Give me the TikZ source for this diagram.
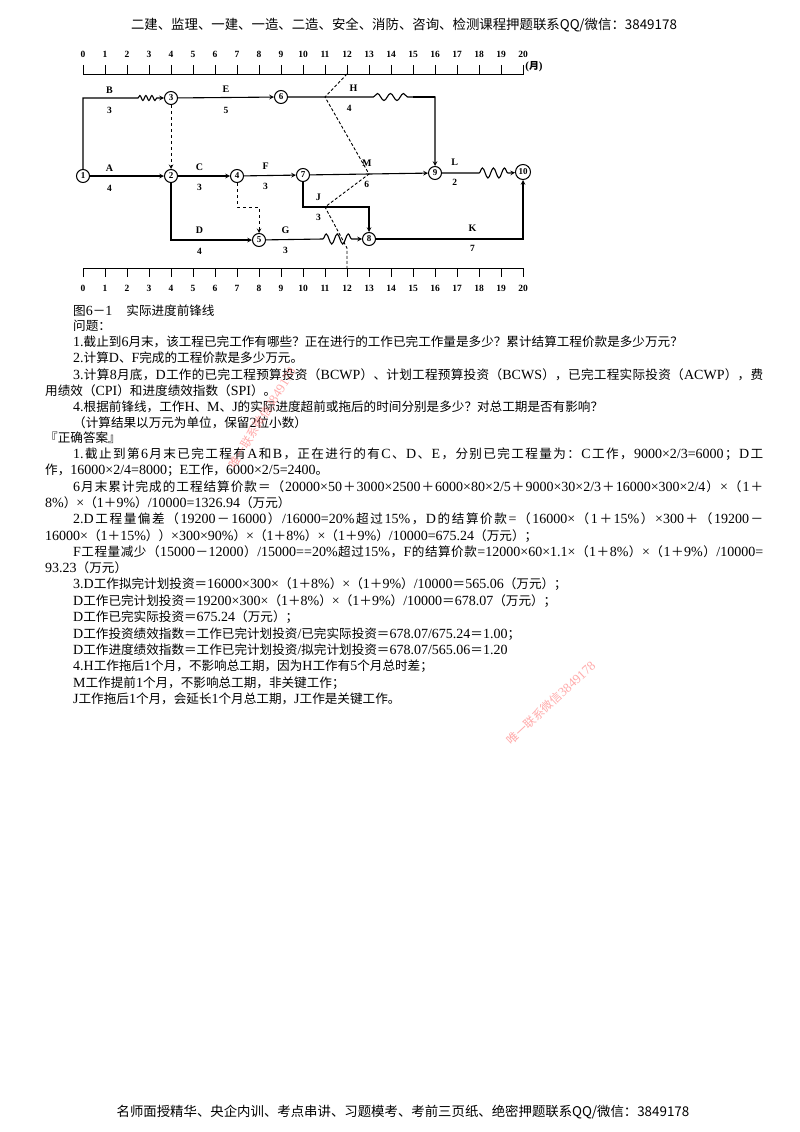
\documentclass[tikz,border=0pt]{standalone}
\usepackage{fontspec}
\usepackage{tikz}
\usetikzlibrary{arrows, positioning, decorations.pathmorphing}
\setmainfont{Liberation Serif}
\newfontfamily\cjkfont[Scale=0.9]{Noto Sans CJK SC}
\newfontfamily\bannercjk{Noto Sans CJK SC}

% Chinese characters are set in the CJK face, the rest in the serif
\chardef\cjkclass=77
\newcount\cjkcode
\def\cjkrange#1#2{\cjkcode=#1\relax
  \loop\XeTeXcharclass\cjkcode=\cjkclass
  \ifnum\cjkcode<#2\relax\advance\cjkcode by 1\relax\repeat}
\cjkrange{"3000}{"303F}
\cjkrange{"4E00}{"9FFF}
\cjkrange{"FF00}{"FFEF}
\def\cjkglue{\hskip 0pt plus 2pt minus 0.4pt\relax}
\XeTeXinterchartoks \cjkclass \cjkclass = {\cjkglue}
\XeTeXinterchartoks 0 \cjkclass = {\cjkglue\cjkfont}
\XeTeXinterchartoks 4095 \cjkclass = {\cjkfont}
\XeTeXinterchartoks \cjkclass 0 = {\cjkglue\rmfamily}
\XeTeXinterchartoks \cjkclass 4095 = {\rmfamily}
\XeTeXinterchartokenstate=1

\newcommand\plaincjk{\XeTeXinterchartokenstate=0\relax}
\newcommand\bannerfont{\bannercjk\plaincjk\fontsize{13.4}{15}\selectfont}
\newcommand\bodyfont{\fontsize{14}{15}\selectfont}
\newcommand\wmfont{\cjkfont\fontsize{13}{13}\selectfont}
\newcommand\fullline[1]{\hbox to 690pt{#1}}

\begin{document}
\begin{tikzpicture}[
    x=1pt, y=-1pt,
    line/.style={line width=1.1pt},
    arrow/.style={line width=1.1pt,->,>=stealth},
    dummy/.style={line width=1pt,dashed,->,>=stealth},
    front/.style={line width=0.9pt,dash pattern=on 3pt off 2pt},
    scale axis/.style={line width=0.9pt},
    event/.style={circle, draw, line width=1pt, fill=white, inner sep=0pt, minimum size=13pt, font=\bfseries\fontsize{9}{9}\selectfont},
    lbl/.style={inner sep=0pt, font=\bfseries\fontsize{10}{10}\selectfont},
    num/.style={inner sep=0pt, font=\bfseries\fontsize{9.5}{10}\selectfont},
    smallwave/.style={decoration={snake, amplitude=2.5pt, segment length=6pt}},
    bigwave/.style={decoration={snake, amplitude=5pt, segment length=11pt}},
    txt/.style={anchor=west, inner sep=0pt, font=\bodyfont},
    banner/.style={inner sep=0pt, font=\bannerfont},
    wm/.style={inner sep=0pt, text=red!55!white, opacity=0.6, font=\wmfont}
]
\fill[white] (0,0) rectangle (800,1132);
\useasboundingbox (0,0) rectangle (800,1132);

\node[banner] (hdr) at (404,25) {二建、监理、一建、一造、二造、安全、消防、咨询、检测课程押题联系QQ/微信：3849178};

\begin{scope}[x=22pt, xshift=83pt]
% time scales
\draw[scale axis] (0,65) -- (0,74) -- (20,74) -- (20,65);
\draw[scale axis] (0,277) -- (0,268) -- (20,268) -- (20,277);
\foreach \m in {0,...,20} {
  \draw[scale axis] (\m,74) -- (\m,65);
  \node[num] (t\m) at (\m,54) {\m};
  \draw[scale axis] (\m,268) -- (\m,277);
  \node[num] (b\m) at (\m,288) {\m};
}
\node[num, anchor=west, font=\bfseries\fontsize{11}{11}\selectfont] (unit) at (20.1,67) {(月)};

\node[event] (n1) at (0,176) {1};
\node[event] (n2) at (4,176) {2};
\node[event] (n3) at (4,98) {3};
\node[event] (n4) at (7,176) {4};
\node[event] (n5) at (8,240) {5};
\node[event] (n6) at (9,97) {6};
\node[event] (n7) at (10,175) {7};
\node[event] (n8) at (13,239) {8};
\node[event] (n9) at (16,173) {9};
\node[event, minimum size=15pt] (n10) at (20,172) {10};

\coordinate (wB1) at (2.5,98);
\coordinate (wB2) at (3.4,98);
\coordinate (wH1) at (13.2,97);
\coordinate (wH2) at (15,97);
\coordinate (hH) at (16,97);
\coordinate (v4) at (8,207);
\coordinate (jJ) at (13,207);
\coordinate (wG1) at (10.9,239);
\coordinate (wG2) at (12.3,239);
\coordinate (wL1) at (18,173);
\coordinate (wL2) at (19.4,173);
\coordinate (f0) at (12,74);
\coordinate (f1) at (11,97);
\coordinate (f2) at (13,174);
\coordinate (f3) at (11,207);
\coordinate (f4) at (12,248);
\coordinate (f5) at (12,268);

\draw[arrow] (n1) |- (wB1) decorate[smallwave] {-- (wB2)} -- (n3);
\draw[arrow] (n3) -- (n6);
\draw[arrow] (n6) -- (wH1) decorate[smallwave, decoration={amplitude=3.5pt, segment length=13pt}] {-- (wH2)} -- (hH) -- (n9);
\draw[line, line width=2pt] (wH2) -- (hH);
\draw[arrow] (n1) -- (n2);
\draw[dummy] (n3) -- (n2);
\draw[arrow] (n2) -- (n4);
\draw[arrow] (n4) -- (n7);
\draw[arrow] (n7) -- (n9);
\draw[dummy] (n4) |- (v4) -- (n5);
\draw[arrow] (n2) |- (n5);
\draw[arrow] (n5) -- (wG1) decorate[bigwave] {-- (wG2)} -- (n8);
\draw[arrow] (n7) |- (jJ) -- (n8);
\draw[arrow] (n8) -| (n10);
\draw[arrow] (n9) -- (wL1) decorate[bigwave] {-- (wL2)} -- (n10);
\draw[front] (f0) -- (f1) -- (f2) -- (f3) -- (f4) -- (f5);

\node[lbl] (lB) at (1.2,90) {B};   \node[num] (dB) at (1.2,110) {3};
\node[lbl] (lE) at (6.5,89) {E};   \node[num] (dE) at (6.5,110) {5};
\node[lbl] (lH) at (12.3,88) {H};  \node[num] (dH) at (12.1,108) {4};
\node[lbl] (lA) at (1.2,168) {A};  \node[num] (dA) at (1.2,188) {4};
\node[lbl] (lC) at (5.3,167) {C};  \node[num] (dC) at (5.3,187) {3};
\node[lbl] (lF) at (8.3,166) {F};  \node[num] (dF) at (8.3,186) {3};
\node[lbl] (lM) at (12.9,163) {M}; \node[num] (dM) at (12.9,184) {6};
\node[lbl] (lL) at (16.9,162) {L}; \node[num] (dL) at (16.9,182) {2};
\node[lbl] (lJ) at (10.7,197) {J}; \node[num] (dJ) at (10.7,217) {3};
\node[lbl] (lD) at (5.3,230) {D};  \node[num] (dD) at (5.3,251) {4};
\node[lbl] (lG) at (9.2,230) {G};  \node[num] (dG) at (9.2,250) {3};
\node[lbl] (lK) at (17.7,228) {K}; \node[num] (dK) at (17.7,248) {7};
\end{scope}

\node[txt] (cap) at (73,311) {图6－1\hspace{1em}实际进度前锋线};
\node[txt] (qhead) at (73,326) {问题：};
\node[txt] (q1) at (73,342) {1.截止到6月末，该工程已完工作有哪些？正在进行的工作已完工作量是多少？累计结算工程价款是多少万元？};
\node[txt] (q2) at (73,358) {2.计算D、F完成的工程价款是多少万元。};
\node[txt] (q3a) at (73,375) {\fullline{3.计算8月底，D工作的已完工程预算投资（BCWP）、计划工程预算投资（BCWS），已完工程实际投资（ACWP），费}};
\node[txt] (q3b) at (45,391) {用绩效（CPI）和进度绩效指数（SPI）。};
\node[txt] (q4) at (73,407) {4.根据前锋线，工作H、M、J的实际进度超前或拖后的时间分别是多少？对总工期是否有影响？};
\node[txt] (qnote) at (73,423) {（计算结果以万元为单位，保留2位小数）};
\node[txt] (ahead) at (45,438) {『正确答案』};
\node[txt] (a1a) at (73,454) {\fullline{1.截止到第6月末已完工程有A和B，正在进行的有C、D、E，分别已完工程量为：C工作，9000×2/3=6000；D工}};
\node[txt] (a1b) at (45,470) {作，16000×2/4=8000；E工作，6000×2/5=2400。};
\node[txt] (a1c) at (73,487) {\fullline{6月末累计完成的工程结算价款＝（20000×50＋3000×2500＋6000×80×2/5＋9000×30×2/3＋16000×300×2/4）×（1＋}};
\node[txt] (a1d) at (45,503) {8\%）×（1＋9\%）/10000=1326.94（万元）};
\node[txt] (a2a) at (73,519) {\fullline{2.D工程量偏差（19200－16000）/16000=20\%超过15\%，D的结算价款=（16000×（1＋15\%）×300＋（19200－}};
\node[txt] (a2b) at (45,536) {16000×（1＋15\%））×300×90\%）×（1＋8\%）×（1＋9\%）/10000=675.24（万元）；};
\node[txt] (a2c) at (73,552) {\fullline{F工程量减少（15000－12000）/15000==20\%超过15\%，F的结算价款=12000×60×1.1×（1＋8\%）×（1＋9\%）/10000=}};
\node[txt] (a2d) at (45,568) {93.23（万元）};
\node[txt] (a3a) at (73,584) {3.D工作拟完计划投资＝16000×300×（1＋8\%）×（1＋9\%）/10000＝565.06（万元）；};
\node[txt] (a3b) at (73,601) {D工作已完计划投资＝19200×300×（1＋8\%）×（1＋9\%）/10000＝678.07（万元）；};
\node[txt] (a3c) at (73,617) {D工作已完实际投资＝675.24（万元）；};
\node[txt] (a3d) at (73,634) {D工作投资绩效指数＝工作已完计划投资/已完实际投资＝678.07/675.24＝1.00；};
\node[txt] (a3e) at (73,650) {D工作进度绩效指数＝工作已完计划投资/拟完计划投资＝678.07/565.06＝1.20};
\node[txt] (a4a) at (73,666) {4.H工作拖后1个月，不影响总工期，因为H工作有5个月总时差；};
\node[txt] (a4b) at (73,683) {M工作提前1个月，不影响总工期，非关键工作；};
\node[txt] (a4c) at (73,699) {J工作拖后1个月，会延长1个月总工期，J工作是关键工作。};

\node[wm, rotate=58] (wm1) at (262,418) {唯一联系微信3849178};
\node[wm, rotate=43] (wm2) at (551,703) {唯一联系微信3849178};

\node[banner] (ftr) at (403,1112) {名师面授精华、央企内训、考点串讲、习题模考、考前三页纸、绝密押题联系QQ/微信：3849178};
\end{tikzpicture}
\end{document}
